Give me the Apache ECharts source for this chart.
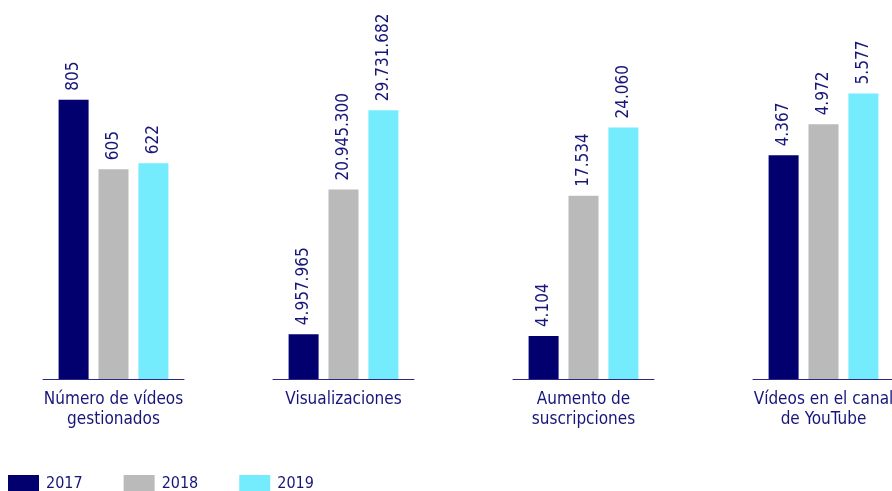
<!DOCTYPE html>
<html>
<head>
<meta charset="utf-8">
<script src="https://cdn.jsdelivr.net/npm/echarts@6/dist/echarts.min.js"></script>
<style>
  html, body { margin: 0; padding: 0; background: #ffffff; }
  #chart { width: 892px; height: 491px; }
</style>
</head>
<body>
<div id="chart"></div>
<script>
// Indicator names (one panel each) and yearly values
const categories = [
  'Número de vídeos\ngestionados',
  'Visualizaciones',
  'Aumento de\nsuscripciones',
  'Vídeos en el canal\nde YouTube'
];
const years = ['2017', '2018', '2019'];
const values2017 = [805, 4957965, 4104, 4367];
const values2018 = [605, 20945300, 17534, 4972];
const values2019 = [622, 29731682, 24060, 5577];

// Each panel has its own independent value scale
const axisMax = [1035, 39700000, 34350, 7010];
const panelLeft = [43, 273, 513, 753];

const yearValues = [values2017, values2018, values2019];
const colors = ['#02006f', '#bababa', '#74ecfd'];
const textColor = '#17157a';
const fontFamily = '"DejaVu Sans Condensed", "DejaVu Sans", sans-serif';

function fmt(v) {
  return String(v).replace(/\B(?=(\d{3})+(?!\d))/g, '.');
}

const grid = [], xAxis = [], yAxis = [], series = [];
categories.forEach((cat, i) => {
  grid.push({
    left: panelLeft[i], width: 141, top: 20, bottom: 112,
    outerBoundsMode: 'none', containLabel: false
  });
  xAxis.push({
    type: 'category',
    gridIndex: i,
    data: [cat],
    axisTick: { show: false },
    axisLine: { lineStyle: { color: '#2a2a80', width: 1 } },
    axisLabel: {
      color: textColor, fontSize: 17, fontFamily: fontFamily,
      lineHeight: 20, margin: 11, interval: 0
    }
  });
  yAxis.push({
    type: 'value', gridIndex: i, min: 0, max: axisMax[i], show: false
  });
  years.forEach((y, k) => {
    series.push({
      name: y,
      type: 'bar',
      xAxisIndex: i,
      yAxisIndex: i,
      data: [yearValues[k][i]],
      barWidth: 30,
      barGap: '33%',
      itemStyle: { color: colors[k] },
      label: {
        show: true,
        position: 'top',
        rotate: 90,
        align: 'left',
        verticalAlign: 'middle',
        distance: 9,
        color: textColor,
        fontSize: 17,
        fontFamily: fontFamily,
        formatter: p => fmt(p.value)
      }
    });
  });
});

const chart = echarts.init(document.getElementById('chart'), null, { renderer: 'canvas' });
chart.setOption({
  animation: false,
  backgroundColor: '#ffffff',
  grid, xAxis, yAxis, series,
  legend: {
    data: years,
    left: 8,
    top: 475,
    padding: 0,
    itemWidth: 31,
    itemHeight: 17,
    itemGap: 41,
    icon: 'rect',
    textStyle: {
      color: textColor, fontSize: 16, fontFamily: fontFamily,
      padding: [0, 0, 0, 2]
    },
    selectedMode: false
  }
});
</script>
</body>
</html>
